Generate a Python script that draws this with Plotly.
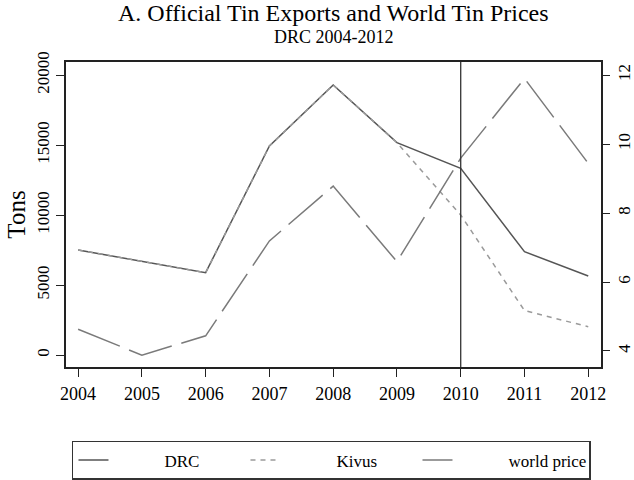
import plotly.graph_objects as go

# Annual data, 2004-2012
years = [2004, 2005, 2006, 2007, 2008, 2009, 2010, 2011, 2012]
drc_tons = [7500, 6700, 5880, 14930, 19290, 15170, 13330, 7380, 5640]
kivus_tons = [7500, 6700, 5880, 14930, 19290, 15170, 10000, 3170, 2020]
world_price = [4.63, 3.88, 4.44, 7.19, 8.78, 6.59, 9.59, 11.9, 9.44]

left_ticks = [0, 5000, 10000, 15000, 20000]
left_labels = ["0", "5000", "10000", "15000", "20000"]
right_ticks = [4, 6, 8, 10, 12]
marker_year = 2010

FONT = "Liberation Serif, Times New Roman, serif"
AX = "#222222"
PAD = "\u00a0" * 12  # gap between legend key and its label

fig = go.Figure()
fig.add_trace(go.Scatter(
    x=years, y=drc_tons, name=PAD + "DRC", mode="lines",
    line=dict(color="#555555", width=1.5),
))
fig.add_trace(go.Scatter(
    x=years, y=kivus_tons, name=PAD + "Kivus", mode="lines",
    line=dict(color="#9a9a9a", width=1.5, dash="5px,5px"),
))
fig.add_trace(go.Scatter(
    x=years, y=world_price, name=PAD + "world price", mode="lines", yaxis="y2",
    line=dict(color="#7a7a7a", width=1.5, dash="45px,10px"),
))

# Reference line at 2010
fig.add_shape(type="line", xref="x", yref="paper",
              x0=marker_year, x1=marker_year, y0=0, y1=1,
              line=dict(color="#333333", width=1.3))

# Title and subtitle
fig.add_annotation(text="A. Official Tin Exports and World Tin Prices",
                   xref="paper", yref="paper", x=0.5, y=1.1593,
                   xanchor="center", yanchor="middle", showarrow=False,
                   font=dict(size=24, family=FONT, color="black"))
fig.add_annotation(text="DRC 2004-2012",
                   xref="paper", yref="paper", x=0.5, y=1.0836,
                   xanchor="center", yanchor="middle", showarrow=False,
                   font=dict(size=18, family=FONT, color="black"))

fig.update_layout(
    width=634, height=480,
    margin=dict(l=66, r=33, t=62, b=113, autoexpand=False),
    paper_bgcolor="white", plot_bgcolor="white",
    font=dict(family=FONT, color="black", size=18),
    xaxis=dict(
        range=[2003.81, 2012.2], tickvals=years,
        ticks="outside", ticklen=8, tickcolor=AX, tickwidth=1.3,
        showgrid=False, zeroline=False,
        showline=True, linecolor=AX, linewidth=1.5, mirror=True,
        tickfont=dict(size=18), ticklabelstandoff=2,
    ),
    yaxis=dict(
        range=[-857, 20929], tickvals=left_ticks, ticktext=left_labels,
        tickangle=-90, ticks="outside", ticklen=8, tickcolor=AX, tickwidth=1.3,
        showgrid=False, zeroline=False,
        showline=True, linecolor=AX, linewidth=1.5, mirror=True,
        title=dict(text="Tons", font=dict(size=25), standoff=2),
        tickfont=dict(size=17),
    ),
    yaxis2=dict(
        overlaying="y", side="right",
        range=[3.536, 12.377], tickvals=right_ticks,
        tickangle=-90, ticks="outside", ticklen=8, tickcolor=AX, tickwidth=1.3,
        showgrid=False, zeroline=False, showline=False,
        tickfont=dict(size=17),
    ),
    legend=dict(
        orientation="h", x=0.0112, xanchor="left", y=-0.2426, yanchor="top",
        bordercolor="#333333", borderwidth=1.5, bgcolor="white",
        entrywidth=127, entrywidthmode="pixels",
        font=dict(size=17, family=FONT),
    ),
    showlegend=True,
)

fig.write_html("out.html")
